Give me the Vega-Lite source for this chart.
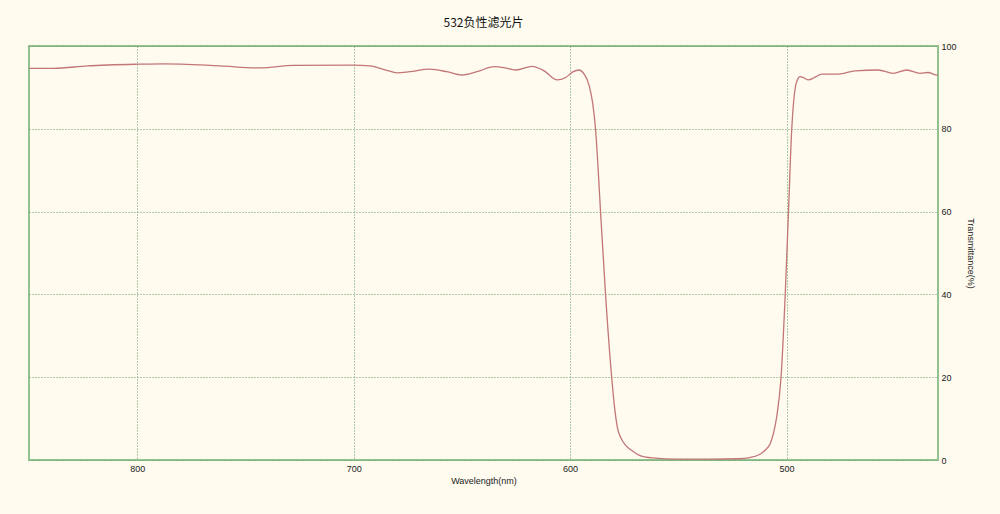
{
  "$schema": "https://vega.github.io/schema/vega-lite/v6.json",
  "autosize": "none",
  "width": 909,
  "height": 414,
  "padding": {"left": 29, "top": 46, "right": 62, "bottom": 54},
  "background": "#fffbef",
  "title": {"text": "532负性滤光片", "font": "Noto Sans CJK SC", "fontSize": 12, "fontWeight": "normal", "color": "#111111", "offset": 12, "anchor": "middle"},
  "config": {
    "view": {"stroke": "#93c290", "strokeWidth": 2, "fill": "#fffbef"},
    "axis": {"labelFont": "Liberation Sans", "labelFontSize": 9, "labelColor": "#222222", "titleFont": "Liberation Sans", "titleFontSize": 9, "titleFontWeight": "normal", "titleColor": "#222222", "domain": false, "ticks": false, "gridColor": "#5f9a5f", "gridDash": [1, 2], "gridWidth": 1, "gridOpacity": 1}
  },
  "data": {"values": [
    {"w": 850, "t": 94.6}, {"w": 838.6, "t": 94.6}, {"w": 823, "t": 95.2}, {"w": 800, "t": 95.6}, {"w": 788, "t": 95.7},
    {"w": 762, "t": 95.2}, {"w": 743, "t": 94.7}, {"w": 728, "t": 95.3}, {"w": 700, "t": 95.4}, {"w": 692.6, "t": 95.2},
    {"w": 685, "t": 94.2}, {"w": 680, "t": 93.5}, {"w": 674, "t": 93.8}, {"w": 665, "t": 94.4}, {"w": 657, "t": 93.8},
    {"w": 650, "t": 93.0}, {"w": 643, "t": 93.8}, {"w": 635, "t": 95.0}, {"w": 629, "t": 94.6}, {"w": 625, "t": 94.2},
    {"w": 617.5, "t": 95.1}, {"w": 612, "t": 94.0}, {"w": 606, "t": 91.8}, {"w": 602, "t": 92.4}, {"w": 598.5, "t": 93.8},
    {"w": 596, "t": 94.2}, {"w": 593.5, "t": 93.2}, {"w": 591.2, "t": 90.5}, {"w": 589.5, "t": 86}, {"w": 588.2, "t": 79.7},
    {"w": 587, "t": 70}, {"w": 585.9, "t": 59.7}, {"w": 583.6, "t": 39.9}, {"w": 580.8, "t": 20.1}, {"w": 579.5, "t": 13},
    {"w": 578.2, "t": 8}, {"w": 576.5, "t": 5.3}, {"w": 574.4, "t": 3.6}, {"w": 571, "t": 2.1}, {"w": 568.2, "t": 1.2},
    {"w": 562, "t": 0.5}, {"w": 550, "t": 0.2}, {"w": 535, "t": 0.2}, {"w": 522, "t": 0.3}, {"w": 517, "t": 0.6},
    {"w": 513, "t": 1.2}, {"w": 510, "t": 2.3}, {"w": 507.5, "t": 4}, {"w": 506, "t": 6.5}, {"w": 504.5, "t": 10.5},
    {"w": 502.5, "t": 20.1}, {"w": 500.6, "t": 39.9}, {"w": 499.1, "t": 59.7}, {"w": 497.6, "t": 79.7}, {"w": 496.8, "t": 86},
    {"w": 496, "t": 89.8}, {"w": 495, "t": 91.8}, {"w": 493.7, "t": 92.6}, {"w": 492, "t": 92.3}, {"w": 489.9, "t": 91.8},
    {"w": 487, "t": 92.4}, {"w": 483.7, "t": 93.2}, {"w": 476, "t": 93.2}, {"w": 468.3, "t": 94.0}, {"w": 457.6, "t": 94.2},
    {"w": 450.7, "t": 93.4}, {"w": 444.5, "t": 94.2}, {"w": 438.3, "t": 93.4}, {"w": 434.6, "t": 93.6}, {"w": 431, "t": 93.0}, {"w": 430, "t": 92.9}
  ]},
  "mark": {"type": "line", "color": "#c27676", "strokeWidth": 1.3, "interpolate": "monotone", "clip": true},
  "encoding": {
    "x": {"field": "w", "type": "quantitative", "scale": {"domain": [430, 850], "reverse": true, "nice": false, "zero": false},
      "axis": {"title": "Wavelength(nm)", "values": [500, 600, 700, 800], "labelPadding": 4, "titlePadding": 3}},
    "y": {"field": "t", "type": "quantitative", "scale": {"domain": [0, 100], "nice": false},
      "axis": {"orient": "right", "title": "Transmittance(%)", "values": [0, 20, 40, 60, 80, 100], "labelPadding": 3, "titlePadding": 9, "titleAngle": 90}}
  }
}
